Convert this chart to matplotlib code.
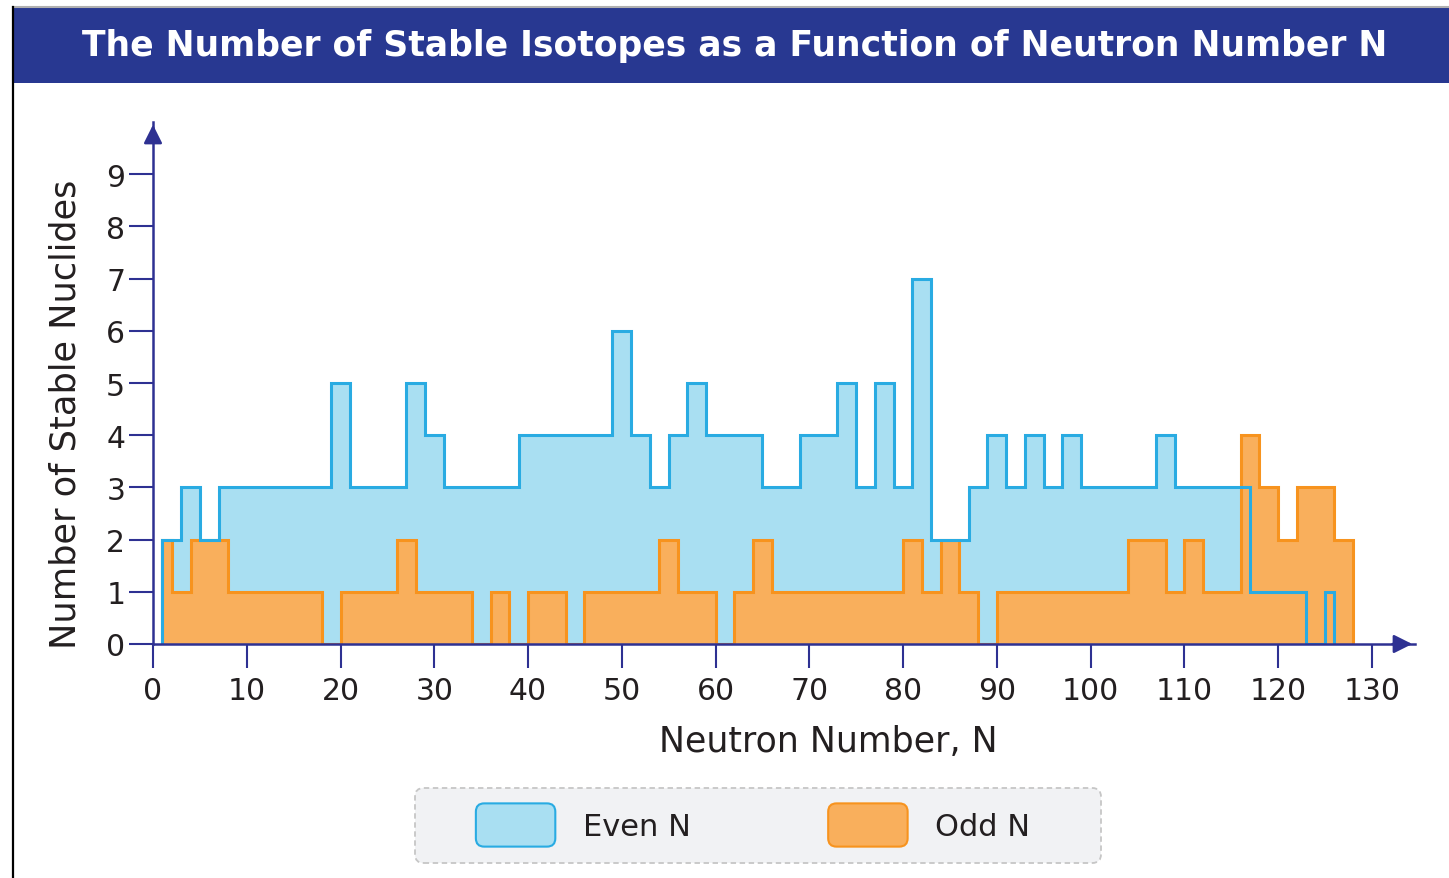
import numpy as np
import matplotlib
matplotlib.use('Agg')
import matplotlib.pyplot as plt
from matplotlib.patches import Rectangle, FancyBboxPatch, Patch
from matplotlib.legend_handler import HandlerPatch
from matplotlib.lines import Line2D

# stable nuclides per neutron number
even_N = np.arange(2, 127, 2)
even_count = [2, 3, 2, 3, 3, 3, 3, 3, 3,
              5, 3, 3, 3, 5, 4,
              3, 3, 3, 3,
              4, 4, 4, 4, 4,
              6, 4, 3, 4, 5,
              4, 4, 4,
              3, 3,
              4, 4,
              5, 3, 5, 3, 7,
              2, 2, 3, 4, 3, 4, 3, 4,
              3, 3, 3, 3,
              4,
              3, 3, 3, 3,
              1, 1, 1,
              0, 1]

odd_N = np.arange(1, 128, 2)
odd_count = [2, 1, 2, 2, 1, 1, 1, 1, 1, 0,
             1, 1, 1, 2, 1, 1, 1, 0, 1, 0,
             1, 1, 0, 1, 1, 1, 1, 2, 1, 1,
             0, 1, 2, 1, 1, 1, 1, 1, 1, 1,
             2, 1, 2, 1, 0, 1, 1, 1, 1, 1,
             1, 1, 2, 2, 1, 2, 1, 1, 4, 3,
             2, 3, 3, 2]

x_ticks = list(range(0, 131, 10))
y_ticks = list(range(0, 10))

title = 'The Number of Stable Isotopes as a Function of Neutron Number N'
navy = '#2e3192'
blue_fill, blue_edge = '#a9dff2', '#29abe2'
orange_fill, orange_edge = '#f9af5c', '#f7931e'
text_col = '#231f20'

plt.rcParams['font.family'] = ['DejaVu Sans']

W, H = 1449, 879
fig = plt.figure(figsize=(W / 100, H / 100), dpi=100)

# banner + border
fig.add_artist(Rectangle((13 / W, 1 - 84 / H), 1, 76 / H, transform=fig.transFigure,
                         facecolor='#283891', edgecolor='none'))
fig.add_artist(Line2D([13 / W, 1], [1 - 7.5 / H] * 2, transform=fig.transFigure,
                      color='#b0b0b0', lw=1.5))
fig.add_artist(Line2D([12.5 / W] * 2, [0, 1 - 7.5 / H], transform=fig.transFigure,
                      color='black', lw=1.6))
fig.text(735 / W, 1 - 46 / H, title, color='white', fontsize=24.9, fontweight='bold',
         ha='center', va='center')

ax = fig.add_axes([153 / W, 1 - 645 / H, (1415 - 153) / W, (645 - 123) / H])
ax.set_xlim(0, (1415 - 153) / 9.375)
ax.set_ylim(0, 10)

# even N: first edge at N-1, last bin is cut at N
even_edges = np.append(even_N - 1, even_N[-1])
odd_edges = np.append(odd_N - 1, odd_N[-1] + 1)
odd_edges[0] = odd_N[0]

ax.stairs(even_count, even_edges, baseline=0, fill=True, color=blue_fill, lw=0, zorder=1)
ax.stairs(odd_count, odd_edges, baseline=0, fill=True, color=orange_fill, lw=0, zorder=1.1)
ax.stairs(odd_count, odd_edges, baseline=0, fill=False, color=orange_edge, lw=2.2, zorder=1.2)
ax.stairs(even_count, even_edges, baseline=0, fill=False, color=blue_edge, lw=2.2, zorder=1.3)

for s in ['top', 'right']:
    ax.spines[s].set_visible(False)
for s in ['left', 'bottom']:
    ax.spines[s].set_color(navy)
    ax.spines[s].set_linewidth(1.8)

ax.annotate('', xy=(1.0, 0), xytext=(0.98, 0), xycoords='axes fraction',
            arrowprops=dict(arrowstyle='-|>', color=navy, lw=1.8, mutation_scale=28))
ax.annotate('', xy=(0, 1.0), xytext=(0, 0.97), xycoords='axes fraction',
            arrowprops=dict(arrowstyle='-|>', color=navy, lw=1.8, mutation_scale=28))

ax.set_xticks(x_ticks)
ax.set_yticks(y_ticks)
ax.tick_params(axis='both', colors=navy, labelcolor=text_col, labelsize=21.5,
               length=17, width=1.5)
ax.tick_params(axis='x', pad=6)
ax.tick_params(axis='y', pad=3)

fig.text(828 / W, 1 - 742 / H, 'Neutron Number, N', fontsize=25, color=text_col,
         ha='center', va='center')
fig.text(66 / W, 1 - 414 / H, 'Number of Stable Nuclides', fontsize=25.3, color=text_col,
         ha='center', va='center', rotation=90)

# legend
fig.add_artist(FancyBboxPatch((415 / W, 1 - 864 / H), 686 / W, 75 / H,
                              boxstyle='round,pad=0,rounding_size=0.006',
                              mutation_aspect=W / H, transform=fig.transFigure,
                              facecolor='#f1f2f4', edgecolor='#c6c6c6', lw=1.3,
                              linestyle=(0, (3, 2))))


def rounded(legend, orig_handle, xdescent, ydescent, width, height, fontsize):
    return FancyBboxPatch((-xdescent, -ydescent), width, height,
                          boxstyle='round,pad=0,rounding_size=6')


handles = [Patch(facecolor=blue_fill, edgecolor=blue_edge, lw=1.5),
           Patch(facecolor=orange_fill, edgecolor=orange_edge, lw=1.5)]
fig.legend(handles, ['Even N', 'Odd N'], loc='center', bbox_to_anchor=(753 / W, 1 - 826 / H),
           ncol=2, frameon=False, fontsize=22, labelcolor=text_col,
           handlelength=2.6, handleheight=1.8, handletextpad=0.9, columnspacing=4.5,
           handler_map={Patch: HandlerPatch(patch_func=rounded)})

fig.savefig('out.png', dpi=100)
